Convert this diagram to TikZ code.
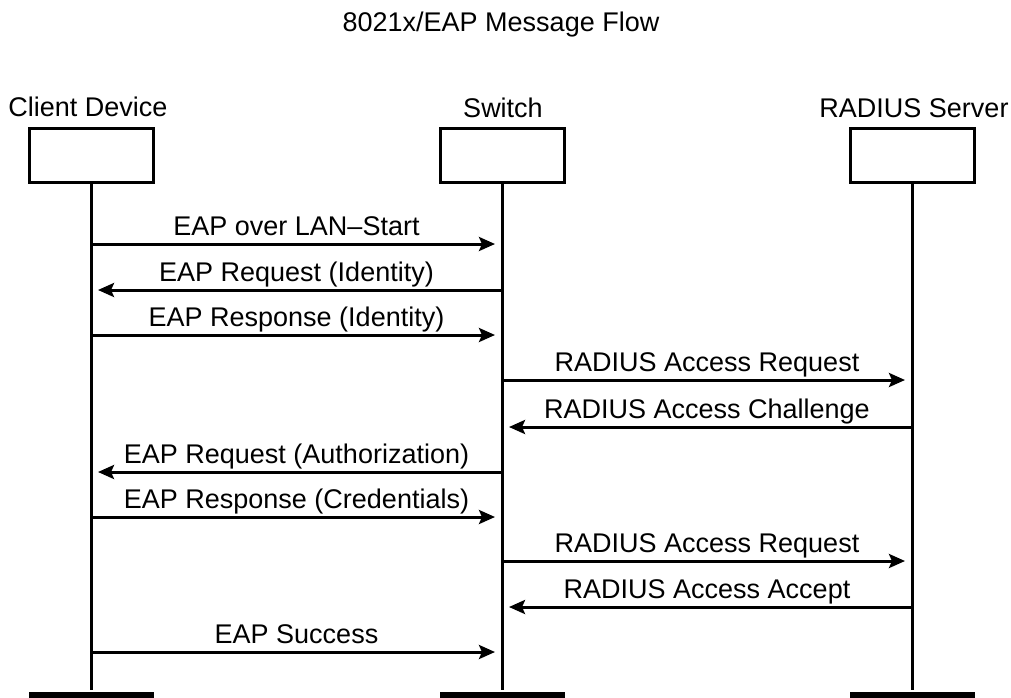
\documentclass[tikz,border=0pt]{standalone}
\usepackage{fontspec}
\setmainfont{Liberation Sans}
\usetikzlibrary{arrows.meta}
\begin{document}
\begin{tikzpicture}[x=1pt,y=-1pt,
  line width=3pt,
  lbl/.style={font=\fontsize{27}{31}\selectfont, inner sep=0pt, anchor=base},
  actor/.style={draw, line width=3pt, minimum width=124pt, minimum height=54pt,
    inner sep=0pt, anchor=north},
  foot/.style={fill=black, draw=none, minimum width=125pt, minimum height=9pt,
    inner sep=0pt, anchor=north},
  lifeline/.style={line width=3pt},
  msg/.style={-{Stealth[length=16pt,width=14pt,inset=3pt]}, line width=3pt,
    shorten >=7pt},
]
\useasboundingbox (0,0) rectangle (1011,697);

% title
\node[lbl] (title) at (501,31) {8021x/EAP Message Flow};

% participants
\node[lbl] (cdl) at (88,116)  {Client Device};
\node[lbl] (swl) at (503,117) {Switch};
\node[lbl] (rsl) at (914,117) {RADIUS Server};

\node[actor] (c) at (91,127)  {};
\node[actor] (s) at (502,127) {};
\node[actor] (r) at (912,127) {};

\node[foot] (cf) at (91,690)  {};
\node[foot] (sf) at (502,690) {};
\node[foot] (rf) at (912,690) {};

\draw[lifeline] (c.south) -- (cf.north);
\draw[lifeline] (s.south) -- (sf.north);
\draw[lifeline] (r.south) -- (rf.north);

% messages: y / sender / receiver / text
\foreach \y/\from/\to/\txt [count=\i] in {
    244/c/s/EAP over LAN–Start,
    290/s/c/EAP Request (Identity),
    335/c/s/EAP Response (Identity),
    380/s/r/RADIUS Access Request,
    427/r/s/RADIUS Access Challenge,
    472/s/c/EAP Request (Authorization),
    517/c/s/EAP Response (Credentials),
    561/s/r/RADIUS Access Request,
    607/r/s/RADIUS Access Accept,
    652/c/s/EAP Success}{
  \coordinate (m\i a) at (\from.south |- 0,\y);
  \coordinate (m\i b) at (\to.south |- 0,\y);
  \draw[msg] (m\i a) -- (m\i b)
    node[lbl, midway, yshift=9pt] (t\i) {\txt};
}
\end{tikzpicture}
\end{document}
